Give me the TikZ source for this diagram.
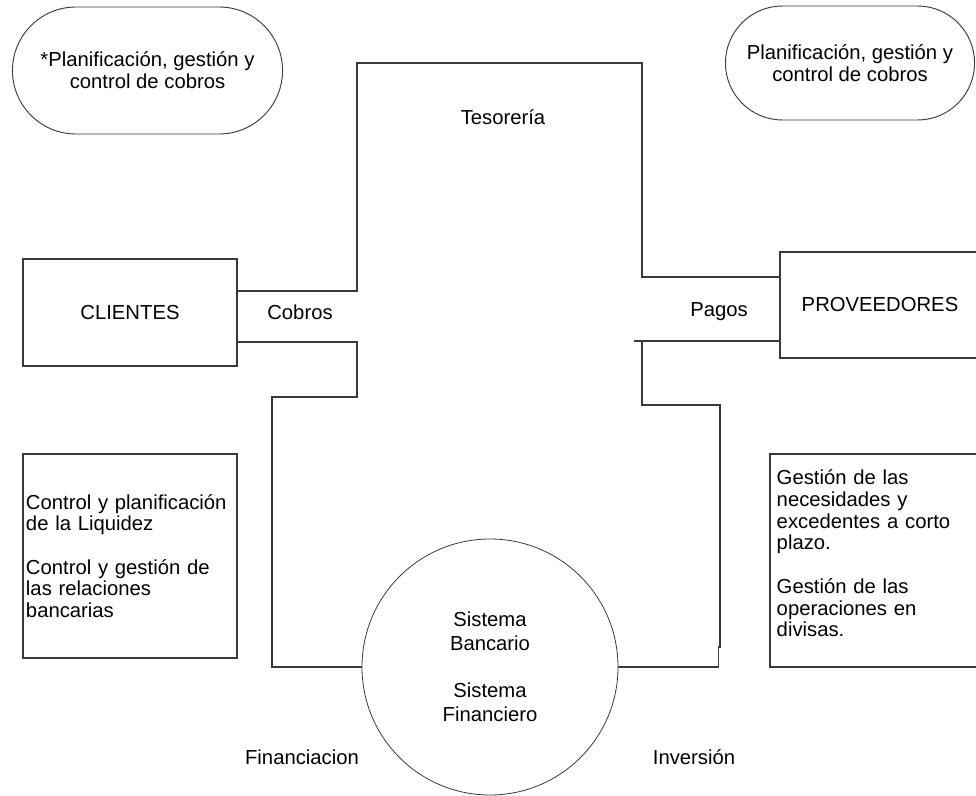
\documentclass[tikz,border=0pt]{standalone}
\usepackage{fontspec}
\setmainfont{Liberation Sans}
\usetikzlibrary{shapes.misc}
\definecolor{edge}{HTML}{3A3A3A}
\begin{document}
\begin{tikzpicture}[x=0.75pt,y=-0.75pt,
  every node/.style={font=\fontsize{15.2pt}{16.3pt}\selectfont, text=black},
  wire/.style={draw=edge, line width=0.8pt},
  bubble/.style={draw=edge, line width=0.7pt, rounded rectangle, align=center},
  block/.style={draw=edge, line width=0.8pt, rectangle, align=center},
  notebox/.style={draw=edge, line width=0.8pt, rectangle, align=left, inner xsep=2pt},
  notetext/.style={align=left, inner sep=0pt, text width=150pt},
  label/.style={inner sep=0pt}]
\useasboundingbox (0,0) rectangle (976,796);
\begin{scope}
\clip (0,0) rectangle (976,796);

% objectives
\node[bubble, minimum width=209.25pt, minimum height=95.25pt,
  font=\fontsize{15.2pt}{16.6pt}\selectfont] (objc) at (147.5,70.5)
  {*Planificación, gestión y\\control de cobros};
\node[bubble, minimum width=193.5pt, minimum height=85.5pt,
  font=\fontsize{15.2pt}{16.6pt}\selectfont] (objp) at (850,63)
  {Planificación, gestión y\\control de cobros};

% counterparts
\node[block, minimum width=160.5pt, minimum height=80.25pt] (cli) at (130,312.5) {CLIENTES};
\node[block, minimum width=150pt, minimum height=79.5pt] (prov) at (880,305) {PROVEEDORES};

% functions
\node[notebox, minimum width=160.5pt, minimum height=153pt, text width=156pt] (fl) at (130,556)
  {Control y planificación\\de la Liquidez\\[16.3pt]Control y gestión de\\las relaciones\\bancarias};
\node[notebox, minimum width=157.5pt, minimum height=159.75pt] (fr) at (875,560.5) {};
\node[notetext, anchor=north west] (frt) at ([xshift=5.25pt,yshift=-12pt]fr.north west)
  {Gestión de las\\necesidades y\\excedentes a corto\\plazo.\\[16.3pt]Gestión de las\\operaciones en\\divisas.};

% banking system
\node[draw=edge, line width=0.6pt, circle, minimum size=192pt, align=center,
  font=\fontsize{15.2pt}{17.8pt}\selectfont] (sis) at (490,667)
  {Sistema\\Bancario\\[17.8pt]Sistema\\Financiero};

% flow channel
\coordinate (stub) at (634,341);
\draw[wire] (cli.east |- 0,291) -- (357,291) -- (357,63) -- (642,63) -- (642,277) -- (prov.west |- 0,277);
\draw[wire] (cli.east |- 0,342) -- (357,342) -- (357,397) -- (272,397) -- (272,667) -- (sis.west);
\draw[wire] (stub) -- (prov.west |- 0,341);
\draw[wire] (642,341) -- (642,405) -- (720,405) -- (720,647) -- (718.5,647) -- (718.5,667) -- (sis.east);

% labels
\node[label] (tes) at (503,117) {Tesorería};
\node[label] (cob) at (300,312) {Cobros};
\node[label] (pag) at (719,312) {Pagos};
\node[label] (fin) at (302,757) {Financiacion};
\node[label] (inv) at (694,757) {Inversión};
\end{scope}
\end{tikzpicture}
\end{document}
